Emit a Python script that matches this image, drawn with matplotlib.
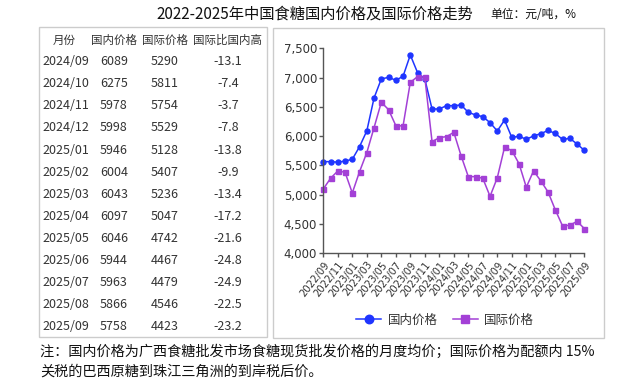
import matplotlib
matplotlib.use("Agg")
import matplotlib.pyplot as plt
from matplotlib.patches import Rectangle
from matplotlib.ticker import FuncFormatter

plt.rcParams['font.family'] = ['Noto Sans CJK SC', 'DejaVu Sans']

# data ---------------------------------------------------------------
months = []
for y in (2022, 2023, 2024, 2025):
    for m in range(1, 13):
        if (y, m) >= (2022, 9) and (y, m) <= (2025, 9):
            months.append('%d/%02d' % (y, m))

domestic = [5565, 5565, 5555, 5575, 5605, 5821, 6089, 6652, 6976, 7005, 6954, 7022,
            7386, 7085, 6976, 6464, 6464, 6521, 6521, 6532, 6407, 6362, 6333, 6230,
            6089, 6275, 5978, 5998, 5946, 6004, 6043, 6097, 6046, 5944, 5963, 5866, 5758]
international = [5098, 5280, 5406, 5383, 5030, 5394, 5719, 6145, 6578, 6453, 6180, 6174,
                 6919, 7016, 7005, 5906, 5975, 5992, 6066, 5667, 5309, 5309, 5280, 4973,
                 5290, 5811, 5754, 5529, 5128, 5407, 5236, 5047, 4742, 4467, 4479, 4546, 4423]

table_header = ['月份', '国内价格', '国际价格', '国际比国内高']
table_months = months[-13:]
table_dom = domestic[-13:]
table_int = international[-13:]
table_diff = ['-13.1', '-7.4', '-3.7', '-7.8', '-13.8', '-9.9', '-13.4',
              '-17.2', '-21.6', '-24.8', '-24.9', '-22.5', '-23.2']

W, H = 641, 386
def fx(x):
    return x / W
def fy(y):
    return 1 - y / H

fig = plt.figure(figsize=(W / 100, H / 100), dpi=100)

# panels -------------------------------------------------------------
for (x0, y0, x1, y1) in [(39, 27, 267, 337), (273, 28, 604, 338)]:
    fig.patches.append(Rectangle((fx(x0), fy(y1)), fx(x1) - fx(x0), fy(y0) - fy(y1),
                                 transform=fig.transFigure, fill=False,
                                 edgecolor='#cccccc', linewidth=1))

# title --------------------------------------------------------------
fig.text(fx(156), fy(14), '2022-2025年中国食糖国内价格及国际价格走势',
         fontsize=11, ha='left', va='center', color='#111111')
fig.text(fx(490), fy(15), '单位：元/吨，%', fontsize=8.5, ha='left', va='center',
         color='#111111')

# table --------------------------------------------------------------
tc = '#333333'
col_x = [64, 114, 165, 228]
for cx, h in zip(col_x, table_header):
    fig.text(fx(cx), fy(40), h, fontsize=8.3, ha='center', va='center', color=tc)
for i in range(len(table_months)):
    ry = 61.7 + i * 22.08
    fig.text(fx(42), fy(ry), table_months[i], fontsize=9, ha='left', va='center', color=tc)
    fig.text(fx(114), fy(ry), str(table_dom[i]), fontsize=9, ha='center', va='center', color=tc)
    fig.text(fx(164.5), fy(ry), str(table_int[i]), fontsize=9, ha='center', va='center', color=tc)
    fig.text(fx(228), fy(ry), table_diff[i], fontsize=9, ha='center', va='center', color=tc)

# chart --------------------------------------------------------------
ax = fig.add_axes([fx(323.3), fy(253.3), fx(584.3) - fx(323.3), fy(48.3) - fy(253.3)])
x = list(range(len(months)))
blue = '#1f35ff'
purple = '#a340d6'
ax.plot(x, domestic, color=blue, marker='o', markersize=3.6, linewidth=1.1,
        label='国内价格', clip_on=False)
ax.plot(x, international, color=purple, marker='s', markersize=3.6, linewidth=1.1,
        label='国际价格', clip_on=False)
ax.set_xlim(0, 36)
ax.set_ylim(4000, 7500)
ax.set_yticks(range(4000, 7501, 500))
ax.yaxis.set_major_formatter(FuncFormatter(lambda v, p: '{:,.0f}'.format(v)))
ax.set_xticks(x[::2])
ax.set_xticklabels(months[::2], rotation=52, ha='right', rotation_mode='anchor',
                   fontsize=7.2, family='DejaVu Sans', color='#333333')
for lab in ax.get_yticklabels():
    lab.set_family('DejaVu Sans')
    lab.set_fontsize(8.5)
    lab.set_color('#333333')
for s in ('top', 'right'):
    ax.spines[s].set_visible(False)
for s in ('left', 'bottom'):
    ax.spines[s].set_color('#555555')
    ax.spines[s].set_linewidth(1)
ax.tick_params(direction='out', length=3, width=1, color='#555555', pad=1.5)

fig.legend(loc='center', bbox_to_anchor=(fx(445), fy(320)), ncol=2, frameon=False,
           fontsize=9, handlelength=2.0, columnspacing=1.2, handletextpad=0.5,
           markerscale=1.7, labelcolor='#333333')

# footnote -----------------------------------------------------------
fig.text(fx(40), fy(352), '注：国内价格为广西食糖批发市场食糖现货批发价格的月度均价；国际价格为配额内 15%',
         fontsize=10.2, ha='left', va='center', color='#111111')
fig.text(fx(40), fy(372), '关税的巴西原糖到珠江三角洲的到岸税后价。',
         fontsize=10.2, ha='left', va='center', color='#111111')

fig.savefig('out.png', dpi=100)
